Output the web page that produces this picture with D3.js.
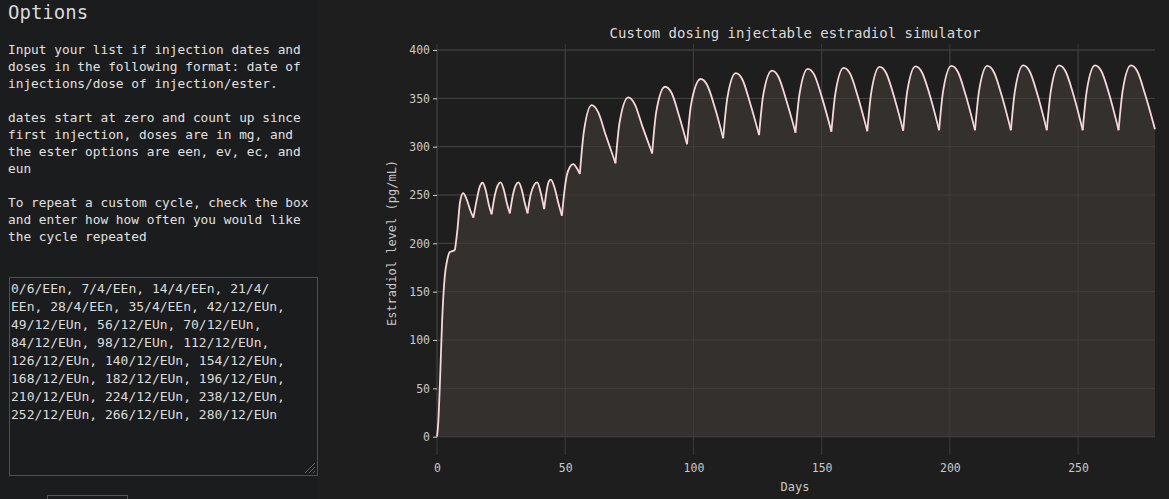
<!DOCTYPE html>
<html><head><meta charset="utf-8">
<script src="https://cdn.jsdelivr.net/npm/d3@7"></script>
<style>
html,body{margin:0;padding:0;background:#1e1e1e;overflow:hidden}
svg{display:block}
</style></head><body>
<svg id="c" width="1169" height="499"></svg>
<script>
const chartTitle = "Custom dosing injectable estradiol simulator";
const xLabel = "Days";
const yLabel = "Estradiol level (pg/mL)";
const xTicks = [0, 50, 100, 150, 200, 250];
const yTicks = [0, 50, 100, 150, 200, 250, 300, 350, 400];
const optionsText = [
 "Input your list if injection dates and",
 "doses in the following format: date of",
 "injections/dose of injection/ester.",
 "",
 "dates start at zero and count up since",
 "first injection, doses are in mg, and",
 "the ester options are een, ev, ec, and",
 "eun",
 "",
 "To repeat a custom cycle, check the box",
 "and enter how how often you would like",
 "the cycle repeated"
];
const inputText = [
 "0/6/EEn, 7/4/EEn, 14/4/EEn, 21/4/",
 "EEn, 28/4/EEn, 35/4/EEn, 42/12/EUn,",
 "49/12/EUn, 56/12/EUn, 70/12/EUn,",
 "84/12/EUn, 98/12/EUn, 112/12/EUn,",
 "126/12/EUn, 140/12/EUn, 154/12/EUn,",
 "168/12/EUn, 182/12/EUn, 196/12/EUn,",
 "210/12/EUn, 224/12/EUn, 238/12/EUn,",
 "252/12/EUn, 266/12/EUn, 280/12/EUn"
];
const days = [0,0.5,1.2,2,3,4,5,6,7,
 8,9,10.2,11.5,13,14.2, 15.5,16.6,17.8,19,20.2,21.3, 22.5,23.7,24.8,26,27.3,28.4,
 29.6,30.7,31.8,33,34.2,35.3, 36.5,37.8,39.1,40.3,41.8, 42.8,43.6,44.4,45.8,47.3,48.7,
 49.6,50.6,51.8,53.1,54.6,55.7,
 57.3,60.3,62.8,65.8,69.6, 71.2,74.6,77.1,80.1,83.9, 85.5,88.9,91.4,94.4,97.5,
 99.1,102.8,105.3,108.3,111.6, 113.2,116.5,119,122,125.6, 127.2,130.6,133.1,136.1,139.8,
 141.4,144.6,147.1,150.1,153.8, 155.4,158.6,161.1,164.1,167.8, 169.4,172.6,175.1,178.1,181.8,
 183.4,186.6,189.1,192.1,195.8, 197.4,200.6,203.1,206.1,209.8, 211.4,214.6,217.1,220.1,223.8,
 225.4,228.6,231.1,234.1,237.8, 239.4,242.6,245.1,248.1,251.8, 253.4,256.6,259.1,262.1,265.8,
 267.4,270.6,273.1,276.1,280];
const levels = [0,15,60,120,165,183,191,192,193,
 215,243,252,246,234,226.7, 245,258,262.7,255,240,230, 249,260,263,256,241,231,
 250,260,263,256,242,231, 250,260,263,254,235.5, 255,264,266,258,242,228.6,
 252,270,279,282,277.5,271.7,
 316,343,336,312,282.8, 325,351,344,321,293, 336,362,356,332,302.5,
 344,370,364,341,308.7, 350,376,370,346,312, 353,378.6,372.6,349,314.5,
 355,380.5,374.5,351,315.5, 356,381.5,375.5,352,316, 357,382.5,376.5,353,316.5,
 357.5,383,377,354,317, 358,383.5,377.5,354,317, 358,383.5,377.5,354,317,
 358,384,378,354.5,317, 358,384,378,354.5,317, 358,384,378,354.5,317,
 358,384,378,354.5,318];
const breakDays = [7,14.2,21.3,28.4,35.3,41.8,48.7,55.7,69.6,83.9,97.5,111.6,125.6,139.8,
 153.8,167.8,181.8,195.8,209.8,223.8,237.8,251.8,265.8];

const svg = d3.select("#c");
const mono = "'DejaVu Sans Mono', monospace";
svg.append("rect").attr("x",0).attr("y",0).attr("width",318).attr("height",499).attr("fill","#1b1c1e");
svg.append("text").attr("x",8).attr("y",19).attr("fill","#d8d8d8").attr("font-family",mono)
  .attr("font-size",19).text("Options");
svg.append("g").selectAll("text").data(optionsText).join("text")
  .attr("x",8).attr("y",(d,i)=>54+i*17).attr("fill","#e0e0e0").attr("font-family",mono)
  .attr("font-size",12.8).attr("xml:space","preserve").text(d=>d);
svg.append("rect").attr("x",9.5).attr("y",277.5).attr("width",308).attr("height",198)
  .attr("fill","#1b1c1e").attr("stroke","#4f5052");
svg.append("g").selectAll("text").data(inputText).join("text")
  .attr("x",11).attr("y",(d,i)=>293+i*18).attr("fill","#dcdcdc").attr("font-family",mono)
  .attr("font-size",13).text(d=>d);
for(let k=0;k<3;k++){
  svg.append("line").attr("x1",305+k*4).attr("y1",473).attr("x2",315).attr("y2",463+k*4)
    .attr("stroke","#777").attr("stroke-width",0.8);
}
svg.append("rect").attr("x",47.5).attr("y",495.5).attr("width",80).attr("height",10)
  .attr("fill","none").attr("stroke","#555");

const x = d3.scaleLinear().domain([0,280]).range([437,1155]);
const y = d3.scaleLinear().domain([0,400]).range([436.7,50]);
const data = days.map((d,i)=>({d, v:levels[i]}));

const grid = svg.append("g").attr("stroke","#3a3a3a").attr("stroke-width",1);
grid.selectAll(".h").data(yTicks).join("line").attr("x1",434).attr("x2",1155)
  .attr("y1",d=>y(d)).attr("y2",d=>y(d));
grid.selectAll(".v").data(xTicks).join("line").attr("y1",44).attr("y2",455)
  .attr("x1",d=>x(d)).attr("x2",d=>x(d));

const area = d3.area().x(d=>x(d.d)).y0(y(0)).y1(d=>y(d.v)).curve(d3.curveMonotoneX);
svg.append("path").datum(data).attr("d",area).attr("fill","#353230").attr("fill-opacity",0.92);
const grid2 = svg.append("g").attr("stroke","#4a4745").attr("stroke-width",1).attr("opacity",0.6);
grid2.selectAll("line.h").data(yTicks).join("line").attr("x1",437).attr("x2",1155)
  .attr("y1",d=>y(d)).attr("y2",d=>y(d));
grid2.selectAll("line.v").data(xTicks).join("line").attr("y1",50).attr("y2",437)
  .attr("x1",d=>x(d)).attr("x2",d=>x(d));

const segs = [];
let cur = [];
data.forEach(p=>{
  cur.push(p);
  if (breakDays.includes(p.d)) { segs.push(cur); cur=[p]; }
});
if (cur.length>1) segs.push(cur);
const line = d3.line().x(d=>x(d.d)).y(d=>y(d.v)).curve(d3.curveMonotoneX);
svg.append("g").selectAll("path").data(segs).join("path").attr("d",line)
  .attr("fill","none").attr("stroke","#f6d7da").attr("stroke-width",1.8).attr("stroke-linejoin","round");

const yAxis = svg.append("g").attr("transform","translate(437,0)")
  .call(d3.axisLeft(y).tickValues(yTicks).tickSize(4).tickPadding(3));
yAxis.select(".domain").remove();
const xAxis = svg.append("g").attr("transform","translate(0,455)")
  .call(d3.axisBottom(x).tickValues(xTicks).tickSize(0).tickPadding(9));
xAxis.select(".domain").remove();
svg.selectAll(".tick text").attr("fill","#c8c8c8").attr("font-family",mono).attr("font-size",11.5);
svg.selectAll(".tick line").attr("stroke","#c8c8c8");

svg.append("text").attr("x",795).attr("y",38).attr("text-anchor","middle").attr("fill","#dadada")
  .attr("font-family",mono).attr("font-size",14).text(chartTitle);
svg.append("text").attr("x",795).attr("y",491).attr("text-anchor","middle").attr("fill","#c8c8c8")
  .attr("font-family",mono).attr("font-size",12).text(xLabel);
svg.append("text").attr("transform","translate(396,243) rotate(-90)").attr("text-anchor","middle")
  .attr("fill","#c8c8c8").attr("font-family",mono).attr("font-size",12).text(yLabel);
</script>
</body></html>
